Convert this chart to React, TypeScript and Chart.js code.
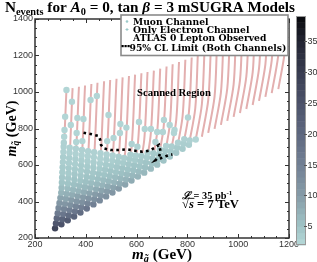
import React, { useEffect, useRef } from 'react';
import { Chart, registerables } from 'chart.js';
Chart.register(...registerables);

// ---------- data ----------
const xTickStep = 200;
const yTickStep = 200;
const minorStep = 50;
const colorbarTicks = [5, 10, 15, 20, 25, 30, 35];
const colorbarMin = 2;
const colorbarMax = 39;

// scanned mSUGRA lines (gluino / squark mass at bottom, knee and top)
const lineBottomG = [279,304,329,354,379,404,430,455,480,505,530,555,580,605,630,656,681,706,731,756,781,806,832,857,882,907,932,957,982,1007,1032,1057,1082,1107,1132,1158];
const lineBottomQ = [253,275,297,318,340,362,384,406,428,449,471,493,515,537,558,580,602,624,646,667,689,711,733,755,776,798,820,842,864,885,907,929,951,973,994,1016];
const lineKneeG = [304,329,354,379,404,429,455,480,505,530,555,580,605,630,655,681,706,731,756,781,806,831,857,882,907,932,957,982,1007,1032,1057,1082,1107,1132,1157,1183];
const lineKneeQ = [453,475,497,518,540,562,584,606,628,649,671,693,715,737,758,780,802,824,846,867,889,911,933,955,976,998,1020,1042,1064,1085,1107,1129,1151,1173,1194,1216];
const lineTopG = [324,348,373,397,422,446,472,496,521,545,570,594,619,643,668,693,718,742,767,792,817,841,867,892,916,941,966,990,1015,1040,1064,1089,1114,1138,1163,1189];
const lineTopQ = [1014,1021,1029,1036,1044,1051,1059,1066,1073,1080,1088,1095,1103,1110,1117,1128,1140,1152,1164,1177,1189,1202,1214,1227,1239,1251,1264,1276,1288,1301,1313,1325,1338,1350,1362,1375];

// model points on each line: squark mass and number of events
const dotSquark: number[][] = [
  [253,280,308,336,364,392,420,448,476,504,532,560,588,616,644,672,700,722,755,792,865,1011],
  [275,303,331,359,387,415,443,471,499,527,555,583,611,639,667,695,819,947],
  [297,325,353,381,409,437,465,493,521,549,577,605,633,661,689,726,775,858],
  [318,346,374,402,430,458,486,514,542,570,598,626,654,682,731,852],
  [340,368,396,424,452,480,508,536,564,592,620,648,676,956],
  [362,390,418,446,474,502,530,558,586,614,642,670,978],
  [384,412,440,468,496,524,552,580,608,636,664],
  [406,434,462,490,518,546,574,602,630,658,731,874],
  [428,456,484,512,540,568,596,624,652,748],
  [449,477,505,533,561,589,617,645,775,825],
  [471,499,527,555,583,611,639,805],
  [493,521,549,577,605,633,657,715],
  [515,543,571,599,627,652,700,836],
  [537,565,593,621,649,797],
  [558,586,614,642,667,797],
  [580,608,636,664,726,781],
  [602,630,658,685,781,847],
  [624,652,680,705,819],
  [646,674,702,775,792],
  [667,695,722],
  [689,717,742,860],
  [711,735],
  [740],
];
const dotEvents: number[][] = [
  [28,24,20,16,13,11,9,7,6,5,4.5,4,4,3.5,3.5,3,3,3,2.5,2.5,2.5,2.5],
  [25,21,17,14,11,9,7.5,6,5,4.5,4,4,3.5,3.5,3,3,2.5,2.5],
  [23,19,15,12,10,8,6.5,5.5,5,4.5,4,3.5,3.5,3,3,2.5,2.5,2.5],
  [21,17,14,11,9,7,6,5,4.5,4,4,3.5,3,3,2.5,2.5],
  [19,15,12,10,8,6.5,5.5,5,4.5,4,3.5,3,3,2.5],
  [17,14,11,9,7,6,5,4.5,4,3.5,3,3,2.5],
  [15,12,10,8,6.5,5.5,5,4,3.5,3,3],
  [13,11,9,7,6,5,4.5,4,3.5,3,2.5,2.5],
  [12,10,8,6.5,5.5,5,4,3.5,3,2.5],
  [11,9,7,6,5,4.5,4,3.5,2.5,2.5],
  [10,8,6.5,5.5,5,4,3.5,2.5],
  [9,7,6,5,4.5,4,3.5,3],
  [8,6.5,5.5,5,4,3.5,3,2.5],
  [7,6,5,4.5,4,2.5],
  [6.5,5.5,5,4,3.5,2.5],
  [6,5,4.5,4,3,2.5],
  [5.5,5,4,3.5,2.5,2.5],
  [5,4.5,4,3,2.5],
  [5,4,3.5,2.5,2.5],
  [4.5,4,3],
  [4,3.5,3,2.5],
  [3.5,3],
  [2.5],
];

// ATLAS 0 lepton observed limit
const limitG = [391,418,451,457,460,471,497,530,563,596,622,649,675,688,695,688,675,695,728,741];
const limitQ = [777,770,759,737,710,691,682,682,686,678,673,678,697,710,673,646,627,637,655,658];

// colour map (N events -> colour)
const cmapStops = [2, 5, 10, 15, 20, 25, 30, 35, 39];
const cmapRGB = [[182,216,216],[160,196,198],[134,156,168],[114,128,148],[94,104,127],[76,82,106],[56,60,80],[34,36,50],[8,8,12]];

function eventColor(v: number): string {
  if (v <= cmapStops[0]) return `rgb(${cmapRGB[0].join(',')})`;
  for (let i = 1; i < cmapStops.length; i++) {
    if (v <= cmapStops[i]) {
      const f = (v - cmapStops[i - 1]) / (cmapStops[i] - cmapStops[i - 1]);
      const a = cmapRGB[i - 1], b = cmapRGB[i];
      return `rgb(${a.map((c, k) => Math.round(c + (b[k] - c) * f)).join(',')})`;
    }
  }
  return `rgb(${cmapRGB[cmapRGB.length - 1].join(',')})`;
}

function gluinoOnLine(i: number, q: number): number {
  if (q <= lineKneeQ[i]) {
    return lineBottomG[i] + ((q - lineBottomQ[i]) / (lineKneeQ[i] - lineBottomQ[i])) * (lineKneeG[i] - lineBottomG[i]);
  }
  return lineKneeG[i] + ((q - lineKneeQ[i]) / (lineTopQ[i] - lineKneeQ[i])) * (lineTopG[i] - lineKneeG[i]);
}

// ---------- text helpers ----------
type Seg = { t: string; it?: boolean; sub?: boolean; sup?: boolean; over?: boolean };
const SERIF = '"Liberation Serif", "DejaVu Serif", serif';
const WIDE_SERIF = '"DejaVu Serif", "Liberation Serif", serif';
const SANS = '"Liberation Sans", Arial, sans-serif';

function segFont(s: Seg, size: number, fam: string) {
  const sz = s.sub || s.sup ? size * 0.68 : size;
  return `${s.it ? 'italic ' : ''}bold ${sz}px ${fam}`;
}
function richWidth(ctx: CanvasRenderingContext2D, segs: Seg[], size: number, fam: string) {
  let w = 0;
  for (const s of segs) {
    ctx.font = segFont(s, size, fam);
    w += ctx.measureText(s.t).width;
  }
  return w;
}
function fitSize(ctx: CanvasRenderingContext2D, segs: Seg[], target: number, fam: string) {
  return (12 * target) / richWidth(ctx, segs, 12, fam);
}
function drawRich(ctx: CanvasRenderingContext2D, segs: Seg[], x: number, y: number, size: number, fam: string) {
  ctx.textBaseline = 'alphabetic';
  ctx.textAlign = 'left';
  ctx.fillStyle = '#000';
  let cx = x;
  for (const s of segs) {
    ctx.font = segFont(s, size, fam);
    const dy = s.sub ? size * 0.22 : s.sup ? -size * 0.38 : 0;
    ctx.fillText(s.t, cx, y + dy);
    const w = ctx.measureText(s.t).width;
    if (s.over) ctx.fillRect(cx - 0.5, y - size * 0.8, w + 1, Math.max(0.8, size * 0.07));
    cx += w;
  }
}

const titleSegs: Seg[] = [
  { t: 'N' }, { t: 'events', sub: true }, { t: ' for ' }, { t: 'A', it: true }, { t: '0', sub: true },
  { t: ' = 0, tan ' }, { t: 'β', it: true }, { t: ' = 3 mSUGRA Models' },
];
const yTitleSegs: Seg[] = [{ t: 'm', it: true }, { t: 'q\u0303', it: true, sub: true }, { t: ' (GeV)' }];
const xTitleSegs: Seg[] = [{ t: 'm', it: true }, { t: 'g\u0303', it: true, sub: true }, { t: ' (GeV)' }];
const lumiSegs: Seg[] = [{ t: 'ℒ', it: true }, { t: ' = 35 pb' }, { t: '-1', sup: true }];
const energySegs: Seg[] = [{ t: '√' }, { t: 's', it: true, over: true }, { t: ' = 7 TeV' }];
const legendTexts = ['Muon Channel', 'Only Electron Channel', 'ATLAS 0 Lepton Observed', '95% CL Limit (Both Channels)'];

const decorPlugin = {
  id: 'decor',
  afterDraw(chart: any) {
    const ctx: CanvasRenderingContext2D = chart.ctx;
    const { left, right, top, bottom } = chart.chartArea;
    const xs = chart.scales.x, ys = chart.scales.y;
    ctx.save();
    // inward ticks on all four sides
    ctx.strokeStyle = '#333';
    ctx.lineWidth = 1;
    ctx.beginPath();
    for (let v = xs.min; v <= xs.max; v += minorStep) {
      const p = Math.round(xs.getPixelForValue(v)) + 0.5;
      const len = v % xTickStep === 0 ? 4 : 2;
      ctx.moveTo(p, bottom); ctx.lineTo(p, bottom - len);
      ctx.moveTo(p, top); ctx.lineTo(p, top + len);
    }
    for (let v = ys.min; v <= ys.max; v += minorStep) {
      const p = Math.round(ys.getPixelForValue(v)) + 0.5;
      const len = v % yTickStep === 0 ? 4 : 2;
      ctx.moveTo(left, p); ctx.lineTo(left + len, p);
      ctx.moveTo(right, p); ctx.lineTo(right - len, p);
    }
    ctx.stroke();
    ctx.lineWidth = 1.5;
    ctx.strokeStyle = '#333';
    ctx.strokeRect(left, top, right - left, bottom - top);

    // titles
    const tSize = fitSize(ctx, titleSegs, 290, SERIF);
    drawRich(ctx, titleSegs, 5, 11.5, tSize, SERIF);

    const yts = fitSize(ctx, yTitleSegs, 56, SERIF);
    const ytw = richWidth(ctx, yTitleSegs, yts, SERIF);
    ctx.save();
    ctx.translate(11, (top + bottom) / 2);
    ctx.rotate(-Math.PI / 2);
    drawRich(ctx, yTitleSegs, -ytw / 2, yts * 0.33, yts, SERIF);
    ctx.restore();

    const xts = fitSize(ctx, xTitleSegs, 60, SERIF);
    const xtw = richWidth(ctx, xTitleSegs, xts, SERIF);
    drawRich(ctx, xTitleSegs, (left + right) / 2 - xtw / 2, 258.5, xts, SERIF);

    // annotations
    const scSegs: Seg[] = [{ t: 'Scanned Region' }];
    drawRich(ctx, scSegs, 137, 95.5, fitSize(ctx, scSegs, 74, SERIF), SERIF);
    drawRich(ctx, lumiSegs, 182, 198.5, fitSize(ctx, lumiSegs, 50, SERIF), SERIF);
    drawRich(ctx, energySegs, 182, 208, fitSize(ctx, energySegs, 57, SERIF), SERIF);

    // legend box
    ctx.fillStyle = '#fff';
    ctx.fillRect(121, 15, 167, 40.5);
    ctx.strokeStyle = '#8a8a8a';
    ctx.lineWidth = 1.6;
    ctx.strokeRect(121, 15, 167, 40.5);
    const lgSegs: Seg[] = [{ t: legendTexts[3] }];
    const lgSize = fitSize(ctx, lgSegs, 157, WIDE_SERIF);
    const lgBase = [24.5, 32.5, 41, 51];
    drawRich(ctx, [{ t: legendTexts[0] }], 133, lgBase[0], lgSize, WIDE_SERIF);
    drawRich(ctx, [{ t: legendTexts[1] }], 133, lgBase[1], lgSize, WIDE_SERIF);
    drawRich(ctx, [{ t: legendTexts[2] }], 133, lgBase[2], lgSize, WIDE_SERIF);
    drawRich(ctx, [{ t: legendTexts[3] }], 129.5, lgBase[3], lgSize, WIDE_SERIF);
    ctx.fillStyle = '#9ccaca';
    ctx.beginPath(); ctx.arc(127, 21.5, 1.3, 0, Math.PI * 2); ctx.fill();
    ctx.fillRect(126.5, 28, 1, 3); ctx.fillRect(125.5, 29, 3, 1);
    ctx.fillStyle = '#000';
    for (let k = 0; k < 3; k++) ctx.fillRect(121.5 + k * 3, 45, 2.2, 2.2);

    // colour bar
    const cbL = 296, cbR = 306, cbT = 16, cbB = 245;
    const cy = (v: number) => cbB - ((v - colorbarMin) / (colorbarMax - colorbarMin)) * (cbB - cbT);
    for (let v = colorbarMin; v < colorbarMax; v += 1) {
      ctx.fillStyle = eventColor(v + 0.5);
      ctx.fillRect(cbL, cy(v + 1), cbR - cbL, cy(v) - cy(v + 1) + 0.5);
    }
    ctx.strokeStyle = '#999';
    ctx.lineWidth = 1;
    ctx.strokeRect(cbL + 0.5, cbT + 0.5, cbR - cbL - 1, cbB - cbT - 1);
    ctx.font = `9px ${SANS}`;
    ctx.fillStyle = '#333';
    ctx.textAlign = 'left';
    ctx.textBaseline = 'middle';
    ctx.strokeStyle = '#555';
    ctx.beginPath();
    for (const t of colorbarTicks) {
      const p = Math.round(cy(t)) + 0.5;
      ctx.moveTo(cbR - 2, p); ctx.lineTo(cbR + 1, p);
      ctx.fillText(String(t), 307.5, p);
    }
    ctx.stroke();
    ctx.restore();
  },
};

export default function App() {
  const ref = useRef<HTMLCanvasElement>(null);
  useEffect(() => {
    document.body.style.margin = '0';
    const dots: { x: number; y: number }[] = [];
    const dotColors: string[] = [];
    dotSquark.forEach((qs, i) => {
      qs.forEach((q, j) => {
        dots.push({ x: gluinoOnLine(i, q), y: q });
        dotColors.push(eventColor(dotEvents[i][j]));
      });
    });
    const datasets: any[] = [
      {
        type: 'line',
        label: 'ATLAS 0 Lepton Observed 95% CL Limit',
        data: limitG.map((g, i) => ({ x: g, y: limitQ[i] })),
        borderColor: '#000',
        borderWidth: 2.6,
        borderDash: [2.6, 3.4],
        borderCapStyle: 'butt',
        pointRadius: 0,
        fill: false,
        tension: 0,
        order: 1,
      },
      {
        type: 'scatter',
        label: 'Muon Channel',
        data: dots,
        pointRadius: 3.2,
        pointBackgroundColor: dotColors,
        pointBorderWidth: 0,
        borderWidth: 0,
        order: 2,
      },
    ];
    lineBottomG.forEach((g, i) => {
      datasets.push({
        type: 'line',
        label: `scan${i}`,
        data: [
          { x: g, y: lineBottomQ[i] },
          { x: lineKneeG[i], y: lineKneeQ[i] },
          { x: lineTopG[i], y: lineTopQ[i] },
        ],
        borderColor: '#e3afaf',
        borderWidth: 2,
        borderJoinStyle: 'round',
        pointRadius: 0,
        fill: false,
        tension: 0.3,
        order: 3,
      });
    });
    const tickCb = (v: any) => String(v);
    const chart = new Chart(ref.current as HTMLCanvasElement, {
      type: 'scatter',
      data: { datasets },
      options: {
        animation: false,
        responsive: false,
        devicePixelRatio: 1,
        events: [],
        layout: { padding: { left: 0, right: 28, top: 19, bottom: 0 } },
        plugins: { legend: { display: false }, title: { display: false }, tooltip: { enabled: false } },
        scales: {
          x: {
            type: 'linear',
            min: 200,
            max: 1200,
            afterFit: (s: any) => { s.height = 24; },
            grid: { display: false, drawTicks: false },
            border: { display: false },
            ticks: { stepSize: xTickStep, padding: 1, color: '#333', font: { family: SANS, size: 9 }, callback: tickCb },
          },
          y: {
            type: 'linear',
            min: 200,
            max: 1400,
            afterFit: (s: any) => { s.width = 35; },
            grid: { display: false, drawTicks: false },
            border: { display: false },
            ticks: { stepSize: yTickStep, padding: 2, color: '#333', font: { family: SANS, size: 9 }, callback: tickCb },
          },
        },
      } as any,
      plugins: [decorPlugin],
    });
    return () => chart.destroy();
  }, []);
  return (
    <div style={{ width: 317, height: 262 }}>
      <canvas ref={ref} width={317} height={262} style={{ display: 'block', width: 317, height: 262 }} />
    </div>
  );
}
